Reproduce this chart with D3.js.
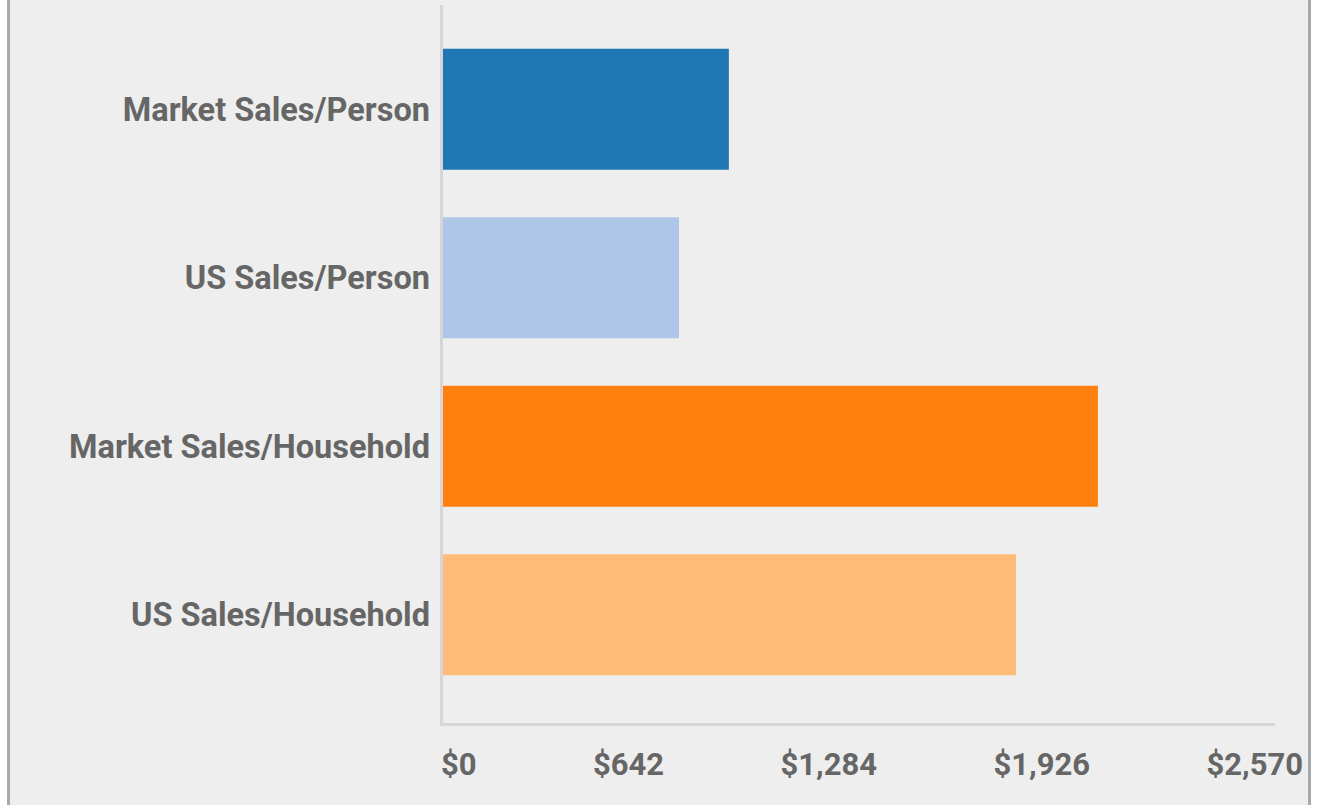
<!DOCTYPE html>
<html>
<head>
<meta charset="utf-8">
<script src="https://cdn.jsdelivr.net/npm/d3@7"></script>
<style>
  html, body { margin: 0; padding: 0; background: #ffffff; }
  svg { display: block; font-family: Roboto, "Noto Sans", sans-serif; }
</style>
</head>
<body>
<svg id="chart" width="1325" height="805"></svg>
<script>
// Sales per person / per household, market vs. US
const categories = ["Market Sales/Person", "US Sales/Person", "Market Sales/Household", "US Sales/Household"];
const values = [883, 729, 2023, 1770];
const colors = ["#1f77b4", "#aec7e8", "#ff7f0e", "#ffbb78"];
const tickValues = [0, 642, 1284, 1926, 2570];
const xMax = 2570;

const svg = d3.select("#chart");

// panel background with side borders
svg.append("rect").attr("x", 7).attr("y", 0).attr("width", 1304).attr("height", 805).attr("fill", "#eeeeee");
svg.append("rect").attr("x", 7).attr("y", 0).attr("width", 3).attr("height", 805).attr("fill", "#a9a9a9");
svg.append("rect").attr("x", 1308).attr("y", 0).attr("width", 3).attr("height", 805).attr("fill", "#a9a9a9");

const x = d3.scaleLinear().domain([0, xMax]).range([443, 1275]);
const y = d3.scaleBand().domain(categories).range([25, 699]).paddingInner(0.282).paddingOuter(0.141);

// axis lines
svg.append("rect").attr("x", 440).attr("y", 5).attr("width", 3).attr("height", 721).attr("fill", "#d6d6d6");
svg.append("rect").attr("x", 440).attr("y", 723).attr("width", 835).attr("height", 3).attr("fill", "#d6d6d6");

// bars
svg.append("g").selectAll("rect")
  .data(categories)
  .join("rect")
  .attr("x", x(0))
  .attr("y", d => y(d))
  .attr("width", (d, i) => x(values[i]) - x(0))
  .attr("height", y.bandwidth())
  .attr("fill", (d, i) => colors[i]);

// category labels
svg.append("g").selectAll("text")
  .data(categories)
  .join("text")
  .attr("x", 430)
  .attr("y", d => y(d) + y.bandwidth() / 2)
  .attr("dy", "0.35em")
  .attr("text-anchor", "end")
  .attr("font-size", 32.5)
  .attr("font-weight", 700)
  .attr("fill", "#666666")
  .text(d => d);

// value labels spread evenly across the bottom
const fmt = v => "$" + d3.format(",")(v);
const tickG = svg.append("g");
const labels = tickG.selectAll("text")
  .data(tickValues)
  .join("text")
  .attr("y", 775)
  .attr("font-size", 31)
  .attr("font-weight", 700)
  .attr("fill", "#666666")
  .text(fmt);

const left = 441, right = 1303;
const widths = [];
labels.each(function () { widths.push(this.getComputedTextLength()); });
const gap = (right - left - d3.sum(widths)) / (tickValues.length - 1);
let cursor = left;
labels.attr("x", (d, i) => {
  const pos = cursor;
  cursor += widths[i] + gap;
  return pos;
});
</script>
</body>
</html>
